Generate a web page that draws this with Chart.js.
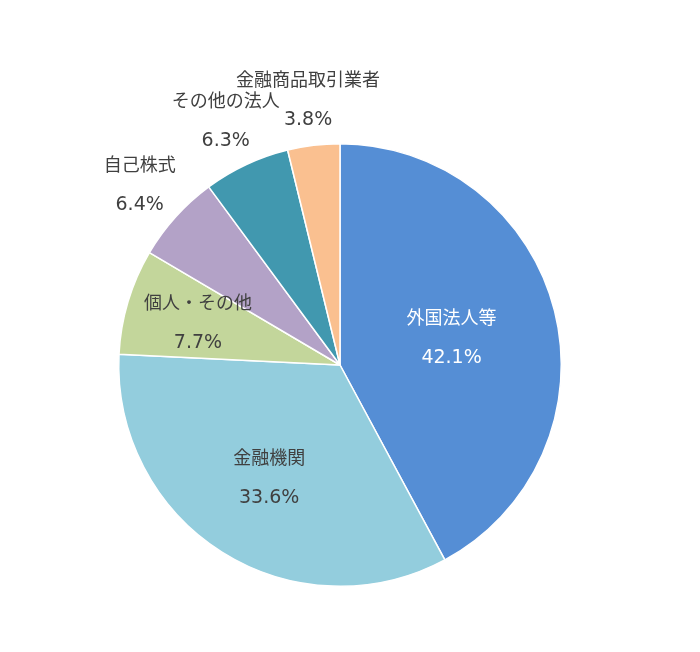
<!DOCTYPE html>
<html><head><meta charset="utf-8">
<script src="https://cdn.jsdelivr.net/npm/chart.js@4"></script>
<style>html,body{margin:0;background:#fff}#wrap{width:700px;height:652px}</style>
</head><body><div id="wrap"><canvas id="chart"></canvas></div>
<script>
const labels = ['外国法人等', '金融機関', '個人・その他', '自己株式', 'その他の法人', '金融商品取引業者'];
const values = [42.1, 33.6, 7.7, 6.4, 6.3, 3.8];
const colors = ['#558ED5', '#93CDDD', '#C3D69B', '#B3A2C7', '#4198AF', '#FAC090'];
const labelDist = [0.52, 0.6, 0.67, 1.22, 1.22, 1.21];
const labelColors = ['#ffffff', '#404040', '#404040', '#404040', '#404040', '#404040'];

const pieLabels = {
  id: 'pieLabels',
  afterDatasetsDraw(chart) {
    const c = chart.ctx;
    chart.getDatasetMeta(0).data.forEach((arc, i) => {
      const mid = (arc.startAngle + arc.endAngle) / 2;
      const r = arc.outerRadius * labelDist[i];
      const x = arc.x + Math.cos(mid) * r;
      const y = arc.y + Math.sin(mid) * r;
      c.save();
      c.fillStyle = labelColors[i];
      c.textAlign = 'center';
      c.textBaseline = 'middle';
      c.font = '18px "Noto Sans CJK JP"';
      c.fillText(labels[i], x, y - 20);
      c.font = '19px "DejaVu Sans"';
      c.fillText(values[i].toFixed(1) + '%', x, y + 21);
      c.restore();
    });
  }
};

new Chart(document.getElementById('chart'), {
  type: 'pie',
  data: {
    labels: labels,
    datasets: [{ data: values, backgroundColor: colors, borderColor: '#ffffff', borderWidth: 1.5 }]
  },
  options: {
    responsive: true,
    maintainAspectRatio: false,
    animation: false,
    layout: { padding: { top: 143, bottom: 65, left: 118, right: 138 } },
    plugins: { legend: { display: false }, tooltip: { enabled: false } }
  },
  plugins: [pieLabels]
});
</script></body></html>
